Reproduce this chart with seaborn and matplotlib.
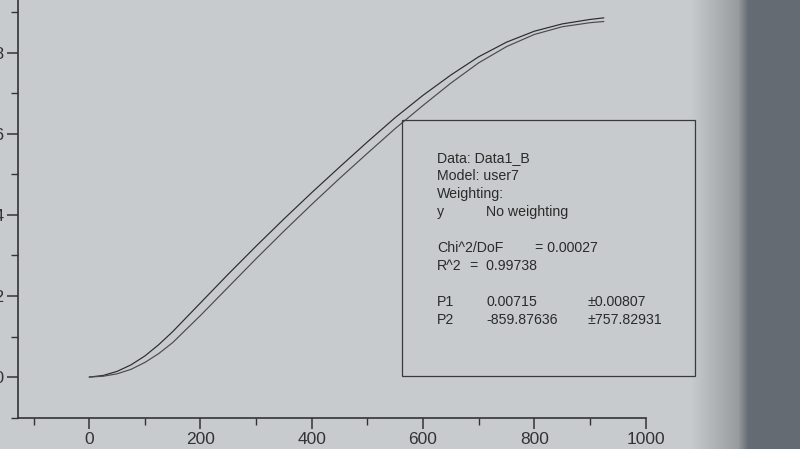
import numpy as np
import pandas as pd
import seaborn as sns
import matplotlib.pyplot as plt
from matplotlib.patches import Rectangle
from matplotlib.ticker import MultipleLocator

x_vals = [0, 25, 50, 75, 100, 125, 150, 200, 250, 300, 350, 400, 450, 500,
          550, 600, 650, 700, 750, 800, 850, 900, 925]
data_y = [0, 0.004, 0.014, 0.030, 0.052, 0.080, 0.112, 0.183, 0.254, 0.323, 0.390,
          0.455, 0.518, 0.580, 0.640, 0.695, 0.745, 0.790, 0.826, 0.853, 0.871, 0.882, 0.886]
fit_y = [0, 0.002, 0.008, 0.019, 0.036, 0.058, 0.085, 0.152, 0.222, 0.292, 0.360,
         0.426, 0.490, 0.552, 0.613, 0.670, 0.725, 0.775, 0.815, 0.845, 0.864, 0.874, 0.877]

y_ticks = [0.0, 0.2, 0.4, 0.6, 0.8]
x_ticks = [0, 200, 400, 600, 800, 1000]

info_lines = [
    ("Data: Data1_B", None, None),
    ("Model: user7", None, None),
    ("Weighting:", None, None),
    ("y", "No weighting", None),
    ("", None, None),
    ("Chi^2/DoF", "= 0.00027", None),
    ("R^2", "=  0.99738", None),
    ("", None, None),
    ("P1", "0.00715", "\u00b10.00807"),
    ("P2", "-859.87636", "\u00b1757.82931"),
]

sns.set_style("ticks")
plt.rcParams['font.family'] = ['Liberation Sans', 'DejaVu Sans']

bg = '#c8cbcd'
fig = plt.figure(figsize=(8, 4.49), dpi=100, facecolor=bg)

# the photo: screen darkens to the right, then the monitor bezel
cols = np.arange(800)
light = np.array([200, 203, 205]) / 255
mid = np.array([150, 154, 157]) / 255
bezel = np.array([100, 107, 115]) / 255
t = np.clip((cols - 690) / 50, 0, 1)[:, None]
row = light * (1 - t) + mid * t
t2 = np.clip((cols - 738) / 10, 0, 1)[:, None]
row = row * (1 - t2) + bezel * t2
shade = np.repeat(row[None, :, :], 449, axis=0)
fig.figimage(shade, 0, 0, zorder=-10)

ax = fig.add_axes([0.0225, 0.069, 0.7845, 0.931])
ax.set_zorder(1)
ax.patch.set_alpha(0)

df = pd.DataFrame({'x': x_vals + x_vals,
                   'y': data_y + fit_y,
                   'series': ['data'] * len(x_vals) + ['fit'] * len(x_vals)})
sns.lineplot(data=df, x='x', y='y', hue='series',
             palette={'data': '#2a2a30', 'fit': '#4a4a52'},
             linewidth=0.85, legend=False, ax=ax)

ax.set_xlim(-128, 1000)
ax.set_ylim(-0.101, 0.93)
ax.set_xticks(x_ticks)
ax.set_yticks(y_ticks)
ax.set_yticklabels([f"{v:.1f}" for v in y_ticks])
ax.xaxis.set_minor_locator(MultipleLocator(100))
ax.yaxis.set_minor_locator(MultipleLocator(0.1))
ax.tick_params(which='major', direction='out', length=8, width=1.1, pad=2,
               colors='#333333', labelsize=12.5, labelcolor='#333333')
ax.tick_params(which='minor', direction='out', length=5, width=1.0, colors='#333333')
ax.set_xlabel('')
ax.set_ylabel('')
for s in ['top', 'right']:
    ax.spines[s].set_visible(False)
for s in ['left', 'bottom']:
    ax.spines[s].set_color('#333333')
    ax.spines[s].set_linewidth(1.2)

# fit results box (figure coordinates)
fig.patches.append(Rectangle((0.5025, 0.163), 0.366, 0.57, transform=fig.transFigure,
                             fill=False, edgecolor='#3a3a3a', linewidth=0.9))
y0 = 1 - 158 / 449
step = 18 / 449
for i, (a, b, c) in enumerate(info_lines):
    yy = y0 - i * step
    fig.text(437 / 800, yy, a, fontsize=10.2, color='#2a2a2a', va='center')
    if b is not None:
        bx = 486 / 800
        if a.startswith('Chi'):
            bx = 535 / 800
        elif a.startswith('R'):
            bx = 470 / 800
        fig.text(bx, yy, b, fontsize=10.2, color='#2a2a2a', va='center')
    if c is not None:
        fig.text(587 / 800, yy, c, fontsize=10.2, color='#2a2a2a', va='center')

fig.savefig('out.png', dpi=100, facecolor=bg)
